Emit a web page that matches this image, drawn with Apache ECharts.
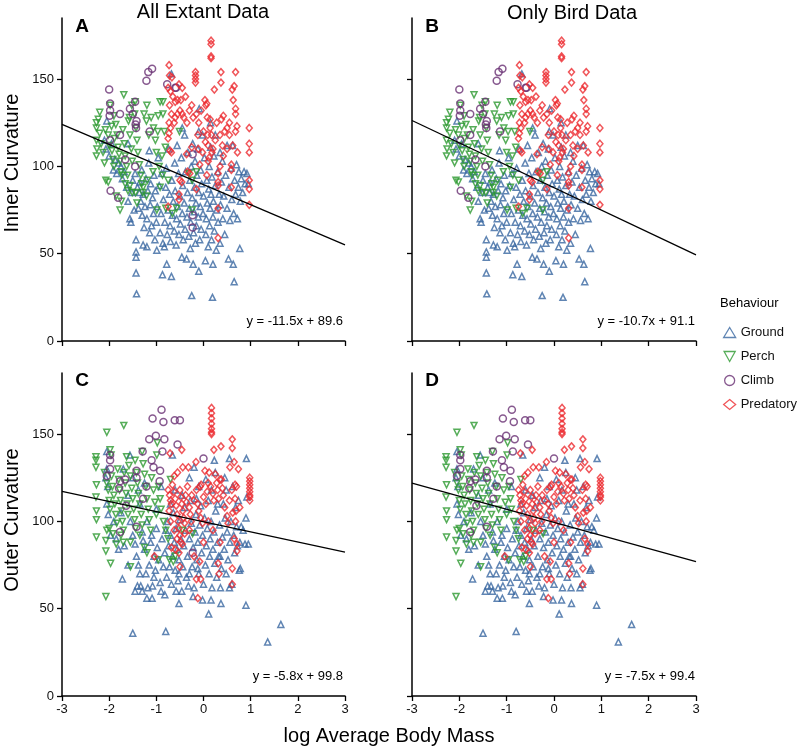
<!DOCTYPE html>
<html>
<head>
<meta charset="utf-8">
<script src="https://cdn.jsdelivr.net/npm/echarts@6/dist/echarts.min.js"></script>
<style>html,body{margin:0;padding:0;background:#fff;}#c{width:800px;height:751px;}</style>
</head>
<body>
<div id="c"></div>
<script>
// ---------- DATA ----------
const groups = ['Ground', 'Perch', 'Climb', 'Predatory'];
const panelTitles = ['All Extant Data', 'Only Bird Data'];
const panelLetters = ['A', 'B', 'C', 'D'];
const equations = ['y = -11.5x + 89.6', 'y = -10.7x + 91.1', 'y = -5.8x + 99.8', 'y = -7.5x + 99.4'];
const xTicks = [-3, -2, -1, 0, 1, 2, 3];
const yTicks = [0, 50, 100, 150];

// Fitted lines as drawn (endpoints at x=-3 and x=3)
const lineA = [[-3, 124.1], [3, 55.1]];
const lineB = [[-3, 126.3], [3, 49.3]];
const lineC = [[-3, 117.2], [3, 82.4]];
const lineD = [[-3, 121.9], [3, 76.9]];

// Inner curvature (panels A & B)
const groundInner = [[-2.05,126],[-2.07,110],[-2.0,106],[-1.95,113],[-1.91,98],[-1.84,96],[-1.88,104],[-1.8,102],[-1.75,100],[-1.72,93],[-1.68,97],[-1.63,88],[-1.6,80],[-1.56,70],[-1.54,68],[-1.52,85],[-1.5,92],[-1.47,75],[-1.45,96],[-1.43,58],[-1.43,51],[-1.43,48],[-1.43,39],[-1.42,27],[-1.4,88],[-1.38,76],[-1.36,85],[-1.35,91],[-1.33,80],[-1.31,98],[-1.3,72],[-1.28,55],[-1.28,84],[-1.26,65],[-1.24,77],[-1.22,93],[-1.2,54],[-1.2,70],[-1.18,86],[-1.16,102],[-1.14,62],[-1.13,78],[-1.12,90],[-1.1,66],[-1.08,82],[-1.06,73],[-1.05,95],[-1.03,58],[-1.02,86],[-1.0,68],[-0.99,52],[-0.98,77],[-0.96,105],[-0.94,89],[-0.92,62],[-0.9,73],[-0.89,96],[-0.87,38],[-0.86,56],[-0.85,81],[-0.83,54],[-0.82,68],[-0.8,88],[-0.79,99],[-0.78,44],[-0.77,61],[-0.75,75],[-0.74,110],[-0.72,84],[-0.71,66],[-0.7,57],[-0.68,37],[-0.68,153],[-0.67,92],[-0.66,72],[-0.64,80],[-0.62,63],[-0.61,102],[-0.6,86],[-0.58,55],[-0.57,70],[-0.56,112],[-0.55,77],[-0.53,96],[-0.52,61],[-0.5,83],[-0.49,67],[-0.47,105],[-0.46,48],[-0.45,73],[-0.44,89],[-0.43,58],[-0.41,79],[-0.4,118],[-0.39,64],[-0.38,97],[-0.36,47],[-0.35,71],[-0.34,85],[-0.33,108],[-0.31,60],[-0.3,76],[-0.29,92],[-0.28,53],[-0.27,68],[-0.26,100],[-0.25,26],[-0.24,82],[-0.23,113],[-0.22,44],[-0.21,62],[-0.2,74],[-0.19,88],[-0.18,103],[-0.17,56],[-0.16,79],[-0.15,66],[-0.14,95],[-0.12,110],[-0.11,71],[-0.1,40],[-0.1,85],[-0.09,133],[-0.08,58],[-0.07,77],[-0.06,98],[-0.05,64],[-0.04,90],[-0.02,118],[-0.01,73],[0.0,83],[0.02,105],[0.04,46],[0.05,61],[0.06,70],[0.07,92],[0.08,79],[0.1,54],[0.11,87],[0.12,100],[0.13,66],[0.14,76],[0.15,125],[0.15,111],[0.16,84],[0.17,58],[0.18,94],[0.19,25],[0.2,44],[0.2,71],[0.21,80],[0.22,106],[0.23,63],[0.25,89],[0.27,52],[0.28,75],[0.3,97],[0.31,68],[0.33,84],[0.35,56],[0.36,78],[0.38,91],[0.4,103],[0.41,70],[0.43,83],[0.45,61],[0.47,95],[0.5,76],[0.53,47],[0.54,88],[0.56,69],[0.58,99],[0.6,81],[0.62,112],[0.63,44],[0.64,73],[0.65,34],[0.66,92],[0.68,84],[0.7,101],[0.72,70],[0.74,88],[0.75,97],[0.77,53],[0.78,80],[0.8,93],[0.83,85],[0.86,97],[0.88,90],[0.92,96],[0.95,90],[0.5,112],[0.35,108],[-0.45,122],[-0.1,120],[0.25,118],[-1.15,109],[-1.6,113],[-2.1,115]];
const perchInner = [[-2.27,125],[-2.27,122],[-2.27,115],[-2.26,110],[-2.27,106],[-2.2,131],[-2.2,119],[-2.17,113],[-2.13,108],[-2.1,102],[-2.07,92],[-2.02,91],[-2.08,121],[-2.02,118],[-2.0,112],[-1.98,135],[-1.95,123],[-1.94,109],[-1.92,104],[-1.9,100],[-1.89,116],[-1.86,124],[-1.83,118],[-1.81,111],[-1.79,107],[-1.77,103],[-1.75,97],[-1.73,95],[-1.71,121],[-1.69,141],[-1.68,113],[-1.66,106],[-1.63,100],[-1.61,95],[-1.59,126],[-1.56,118],[-1.53,110],[-1.51,103],[-1.52,135],[-1.46,130],[-1.43,122],[-1.41,115],[-1.39,108],[-1.36,101],[-1.33,95],[-1.31,90],[-1.29,85],[-1.26,130],[-1.21,126],[-1.16,118],[-1.11,128],[-1.06,122],[-1.02,115],[-0.96,129],[-0.92,137],[-0.86,137],[-0.86,130],[-0.83,120],[-0.81,111],[-0.88,106],[-0.94,100],[-1.0,108],[-1.07,97],[-1.19,92],[-1.28,88],[-1.44,85],[-1.51,85],[-1.6,86],[-1.74,80],[-1.77,75],[-1.85,83],[-1.66,90],[-1.56,89],[-1.41,79],[-1.21,83],[-0.99,75],[-0.87,95],[-0.75,92],[-0.92,88],[-0.8,76],[-0.57,76],[-0.66,73],[-0.51,120],[-0.15,97],[-0.24,92],[-0.24,75],[-0.31,96],[-1.45,137],[-1.57,128],[-1.2,135],[-0.97,120],[-2.23,127],[-1.9,129]];
const climbInner = [[-2.0,144],[-1.98,136],[-1.98,132],[-1.99,129],[-1.77,130],[-1.56,133],[-1.5,130],[-1.45,137],[-1.42,126],[-1.43,122],[-1.21,149],[-1.17,154],[-1.09,156],[-1.14,120],[-0.77,147],[-0.58,145],[-0.6,145],[-1.98,115],[-1.77,118],[-1.66,104],[-1.45,100],[-1.97,86],[-1.81,82],[-1.44,124]];
const climbInnerNonBird = [[-0.23,107],[-0.23,72],[-0.23,65]];
const predInner = [[0.16,172],[0.16,170],[0.16,163],[0.16,162],[-0.73,158],[-0.72,152],[-0.67,151],[-0.17,154],[-0.17,152],[-0.17,150],[-0.17,148],[0.37,154],[0.68,154],[0.03,138],[0.07,136],[0.23,144],[0.37,148],[0.61,144],[0.65,146],[0.63,138],[0.68,133],[0.68,130],[0.71,123],[0.68,120],[0.97,122],[0.97,113],[0.97,108],[0.97,92],[0.97,87],[0.97,78],[0.59,101],[0.59,98],[0.59,88],[0.31,91],[0.31,89],[0.31,96],[0.35,100],[0.31,76],[0.31,59],[0.14,122],[0.14,127],[0.17,118],[0.04,114],[0.09,118],[0.38,127],[0.42,129],[0.55,125],[0.5,122],[-0.11,110],[-0.08,101],[-0.25,111],[-0.36,107],[-0.5,92],[-0.46,91],[-0.52,84],[-0.52,81],[-0.71,109],[-0.68,108],[-0.75,116],[-0.73,119],[-0.29,96],[-0.34,97],[-0.75,77],[-0.15,87],[0.1,103],[0.18,108],[0.07,95],[-0.75,145],[-0.7,143],[-0.65,140],[-0.6,137],[-0.55,138],[-0.5,132],[-0.45,130],[-0.72,135],[-0.68,130],[-0.6,128],[-0.73,125],[-0.7,122],[-0.62,125],[-0.55,130],[-0.48,138],[-0.42,128],[-0.35,125],[-0.3,132],[-0.25,135],[-0.22,128],[-0.38,140],[-0.45,145],[-0.52,147],[-0.15,130],[-0.1,125],[-0.05,132],[0.0,120],[0.05,135],[0.08,128],[-0.12,118],[0.1,112],[0.12,105],[0.2,110],[0.25,115],[0.28,125],[0.35,118],[0.4,112],[0.45,120],[0.5,110],[0.55,118],[0.62,112],[0.72,108],[0.42,106],[-0.02,108]];

// Outer curvature (panels C & D)
const groundOuter = [[-1.5,36],[-0.8,37],[1.36,31],[1.64,41],[0.11,47],[0.9,52],[-0.52,53],[0.37,53],[-1.2,56],[-1.09,56],[-0.02,55],[0.16,55],[-0.22,57],[-2.05,140],[0.91,136],[0.55,136],[0.23,135],[-0.66,138],[-1.56,138],[-0.2,131],[-2.05,130],[-2.07,125],[-2.03,120],[-2.05,110],[-2.02,104],[-1.97,92],[-1.8,84],[-1.72,67],[-1.6,75],[-1.85,90],[-1.9,100],[-1.75,105],[-1.68,86],[-1.55,100],[-1.5,92],[-1.45,87],[-1.42,80],[-1.38,75],[-1.35,70],[-1.33,63],[-1.3,60],[-1.4,63],[-1.45,60],[-1.35,110],[-1.3,94],[-1.28,89],[-1.25,84],[-1.22,70],[-1.18,62],[-1.15,75],[-1.12,88],[-1.1,92],[-1.08,63],[-1.05,80],[-1.02,72],[-1.0,96],[-0.98,85],[-0.95,78],[-0.92,65],[-0.9,60],[-0.88,90],[-0.85,74],[-0.82,82],[-0.8,95],[-0.78,68],[-0.76,100],[-0.74,86],[-0.72,74],[-0.7,92],[-0.68,64],[-0.66,80],[-0.64,105],[-0.62,88],[-0.6,72],[-0.58,96],[-0.56,84],[-0.54,66],[-0.52,78],[-0.5,101],[-0.48,90],[-0.46,60],[-0.44,74],[-0.42,86],[-0.4,108],[-0.38,95],[-0.36,68],[-0.34,80],[-0.32,63],[-0.3,90],[-0.28,112],[-0.26,99],[-0.24,74],[-0.22,85],[-0.2,62],[-0.18,94],[-0.16,104],[-0.14,78],[-0.12,88],[-0.1,70],[-0.08,98],[-0.06,109],[-0.04,82],[-0.02,92],[0.0,64],[0.02,102],[0.04,75],[0.06,86],[0.08,96],[0.1,112],[0.12,70],[0.13,80],[0.14,90],[0.16,100],[0.17,118],[0.18,62],[0.2,84],[0.22,94],[0.24,76],[0.26,106],[0.28,68],[0.3,88],[0.32,80],[0.34,98],[0.36,62],[0.38,73],[0.4,91],[0.42,110],[0.44,84],[0.46,102],[0.48,70],[0.5,94],[0.52,78],[0.55,62],[0.56,88],[0.58,100],[0.6,64],[0.62,120],[0.64,92],[0.66,82],[0.68,108],[0.7,97],[0.72,86],[0.74,112],[0.76,72],[0.77,88],[0.78,73],[0.8,97],[0.84,95],[0.88,87],[0.9,102],[0.92,114],[0.95,87],[0.45,125],[-0.1,120],[-0.45,115],[-0.9,120],[-1.25,122],[-1.5,125],[-1.7,130],[-0.7,110],[0.05,124],[0.25,128],[-0.3,125],[-1.0,107],[-1.2,100],[-1.6,115],[-1.38,118],[-0.6,118],[-0.15,113],[0.3,110],[0.48,118],[-0.52,70],[-0.3,70],[-0.58,60],[-0.12,73],[0.35,80],[-1.05,68],[-0.82,58]];
const perchOuter = [[-1.69,155],[-2.05,151],[-2.28,137],[-2.28,135],[-2.28,131],[-1.98,141],[-1.96,138],[-2.27,121],[-2.28,114],[-2.27,106],[-2.27,101],[-2.27,91],[-2.07,89],[-2.05,95],[-2.07,83],[-1.97,76],[-2.07,57],[-1.55,74],[-1.7,88],[-1.85,87],[-0.98,145],[-0.99,138],[-1.3,140],[-1.63,137],[-1.45,135],[-0.96,78],[-0.64,77],[-0.72,78],[-0.6,80],[-0.23,93],[-0.45,95],[-1.2,82],[-1.25,85],[-2.1,128],[-2.05,122],[-2.02,118],[-2.0,112],[-1.98,107],[-1.95,126],[-1.93,120],[-1.9,115],[-1.88,110],[-1.86,104],[-1.84,99],[-1.82,130],[-1.8,124],[-1.78,118],[-1.76,112],[-1.74,106],[-1.72,100],[-1.7,95],[-1.68,128],[-1.66,122],[-1.64,116],[-1.62,110],[-1.6,104],[-1.58,132],[-1.55,126],[-1.52,119],[-1.5,113],[-1.48,107],[-1.46,101],[-1.44,96],[-1.42,128],[-1.4,122],[-1.38,116],[-1.35,110],[-1.32,104],[-1.3,98],[-1.28,133],[-1.25,127],[-1.22,120],[-1.2,113],[-1.17,107],[-1.15,101],[-1.12,95],[-1.1,125],[-1.06,118],[-1.03,111],[-1.0,104],[-0.95,120],[-0.92,113],[-0.9,107],[-0.85,100],[-0.8,95],[-0.75,90],[-0.7,124],[-1.75,92],[-1.92,93],[-2.0,96],[-1.55,88],[-1.35,92]];
const climbOuter = [[-0.89,164],[-1.08,159],[-0.85,157],[-0.61,158],[-0.5,158],[-1.15,147],[-1.01,149],[-0.83,147],[-0.55,144],[-0.87,140],[-1.1,135],[-1.06,131],[-0.92,129],[-0.93,123],[0.0,136],[-1.98,138],[-1.98,135],[-1.98,130],[-2.05,126],[-1.77,123],[-1.79,119],[-1.66,124],[-1.42,129],[-1.29,140],[-1.42,125],[-1.64,109],[-1.77,94],[-1.42,97],[-1.21,120],[-1.28,113]];
const climbOuterNonBird = [[-0.23,82]];
const predOuter = [[0.17,165],[0.17,162],[0.17,159],[0.17,156],[0.17,153],[0.17,151],[0.17,150],[0.22,141],[0.37,143],[0.61,147],[0.61,142],[-0.46,141],[-0.71,139],[0.98,125],[0.98,123],[0.98,121],[0.98,119],[0.98,117],[0.98,115],[0.98,114],[0.98,112],[0.74,130],[0.65,134],[0.56,131],[0.67,121],[0.7,120],[-0.07,120],[-0.05,121],[0.03,129],[-0.16,134],[-0.32,131],[-0.44,131],[-0.55,128],[-0.62,126],[-0.75,118],[-0.72,115],[-0.7,112],[-0.68,110],[-0.73,106],[-0.66,121],[-0.63,117],[-0.6,113],[-0.58,109],[-0.56,104],[-0.54,100],[-0.52,96],[-0.5,118],[-0.48,114],[-0.46,110],[-0.44,106],[-0.42,102],[-0.4,99],[-0.38,115],[-0.36,111],[-0.34,120],[-0.3,108],[-0.28,104],[-0.26,100],[-0.5,92],[-0.48,88],[-0.56,90],[-0.62,95],[-0.7,100],[-0.68,85],[-0.6,84],[-0.52,82],[-0.45,87],[-0.4,93],[-0.25,115],[-0.2,112],[-0.15,118],[-0.12,110],[-0.1,106],[-0.06,102],[-0.02,99],[0.0,114],[0.05,110],[0.08,117],[0.1,122],[0.12,128],[0.15,120],[0.2,116],[0.22,112],[0.25,127],[0.28,122],[0.3,118],[0.32,113],[0.35,124],[0.38,124],[0.4,119],[0.42,115],[0.45,108],[0.5,103],[0.52,99],[0.55,112],[0.6,118],[0.62,105],[0.68,100],[0.69,106],[0.77,108],[0.67,113],[0.71,87],[0.71,83],[0.65,90],[-0.5,74],[-0.15,67],[-0.06,67],[-0.08,77],[0.33,70],[0.31,76],[0.61,73],[0.61,64],[-0.12,56],[-1.04,80],[0.2,95],[0.35,88],[-0.3,95],[0.1,100],[-0.2,80],[0.0,88]];

// ---------- STYLE ----------
const FONT = 'Liberation Sans, Arial, Helvetica, sans-serif';
const colors = { Ground: '#3867a0', Perch: '#2c982f', Climb: '#693073', Predatory: '#ec2a2f' };
const symbols = {
  Ground: 'triangle',
  Perch: 'path://M0,0L10,0L5,9Z',
  Climb: 'circle',
  Predatory: 'diamond'
};
const sizes = { Ground: [6, 6], Perch: [6, 6], Climb: 7, Predatory: [6, 7] };

const grids = [
  { left: 62, top: 18, width: 283, height: 323 },
  { left: 412, top: 18, width: 284, height: 323 },
  { left: 62, top: 373, width: 283, height: 323 },
  { left: 412, top: 373, width: 284, height: 323 }
];

const xAxes = grids.map((g, i) => ({
  type: 'value', gridIndex: i, min: -3, max: 3, interval: 1,
  axisLine: { onZero: false, lineStyle: { color: '#000', width: 1.5 } },
  axisTick: { length: 5, lineStyle: { color: '#000', width: 1.3 } },
  axisLabel: { show: i >= 2, color: '#111', fontSize: 13, fontFamily: FONT, margin: 7 },
  splitLine: { show: false }
}));
const yAxes = grids.map((g, i) => ({
  type: 'value', gridIndex: i, min: 0, max: 185, interval: 50,
  axisLine: { onZero: false, lineStyle: { color: '#000', width: 1.5 } },
  axisTick: { length: 5, customValues: yTicks, lineStyle: { color: '#000', width: 1.3 } },
  axisLabel: { show: i % 2 === 0, customValues: yTicks, color: '#111', fontSize: 13, fontFamily: FONT, margin: 8 },
  splitLine: { show: false }
}));

function scatter(name, data, gi) {
  return {
    type: 'scatter', name: name, xAxisIndex: gi, yAxisIndex: gi, data: data,
    symbol: symbols[name], symbolSize: sizes[name],
    itemStyle: { color: 'rgba(255,255,255,0)', borderColor: colors[name], borderWidth: 1.5 },
    emphasis: { disabled: true }, animation: false
  };
}
function fit(data, gi) {
  return {
    type: 'line', xAxisIndex: gi, yAxisIndex: gi, data: data, symbol: 'none',
    lineStyle: { color: '#000', width: 1.3 }, animation: false, z: 5
  };
}

const series = [
  scatter('Ground', groundInner, 0), scatter('Perch', perchInner, 0),
  scatter('Climb', climbInner.concat(climbInnerNonBird), 0), scatter('Predatory', predInner, 0), fit(lineA, 0),
  scatter('Ground', groundInner, 1), scatter('Perch', perchInner, 1),
  scatter('Climb', climbInner, 1), scatter('Predatory', predInner, 1), fit(lineB, 1),
  scatter('Ground', groundOuter, 2), scatter('Perch', perchOuter, 2),
  scatter('Climb', climbOuter.concat(climbOuterNonBird), 2), scatter('Predatory', predOuter, 2), fit(lineC, 2),
  scatter('Ground', groundOuter, 3), scatter('Perch', perchOuter, 3),
  scatter('Climb', climbOuter, 3), scatter('Predatory', predOuter, 3), fit(lineD, 3)
];

const txt = (x, y, text, size, extra) => Object.assign({
  type: 'text', x: x, y: y,
  style: Object.assign({ text: text, fontSize: size, fontFamily: FONT, fill: '#000', align: 'center', verticalAlign: 'middle' }, extra || {})
});

const graphic = [
  txt(203, 12, panelTitles[0], 20),
  txt(572, 13, panelTitles[1], 20),
  txt(82, 27, panelLetters[0], 19, { fontWeight: 'bold' }),
  txt(432, 27, panelLetters[1], 19, { fontWeight: 'bold' }),
  txt(82, 381, panelLetters[2], 19, { fontWeight: 'bold' }),
  txt(432, 381, panelLetters[3], 19, { fontWeight: 'bold' }),
  txt(343, 321, equations[0], 13, { align: 'right' }),
  txt(695, 321, equations[1], 13, { align: 'right' }),
  txt(343, 676, equations[2], 13, { align: 'right' }),
  txt(695, 676, equations[3], 13, { align: 'right' }),
  { type: 'text', x: 12, y: 163, rotation: Math.PI / 2,
    style: { text: 'Inner Curvature', fontSize: 20, fontFamily: FONT, fill: '#000', align: 'center', verticalAlign: 'middle' } },
  { type: 'text', x: 12, y: 520, rotation: Math.PI / 2,
    style: { text: 'Outer Curvature', fontSize: 20, fontFamily: FONT, fill: '#000', align: 'center', verticalAlign: 'middle' } },
  txt(389, 736, 'log Average Body Mass', 20),
  txt(720, 303, 'Behaviour', 13, { align: 'left' })
];

const chart = echarts.init(document.getElementById('c'), null, { renderer: 'canvas' });
chart.setOption({
  backgroundColor: '#fff',
  animation: false,
  grid: grids,
  xAxis: xAxes,
  yAxis: yAxes,
  legend: {
    data: groups, orient: 'vertical', left: 718, top: 321,
    itemWidth: 12, itemHeight: 10, itemGap: 11, itemStyle: { borderWidth: 1.3 },
    textStyle: { fontSize: 13, fontFamily: FONT, color: '#111' },
    selectedMode: false
  },
  graphic: graphic,
  series: series
});
</script>
</body>
</html>
